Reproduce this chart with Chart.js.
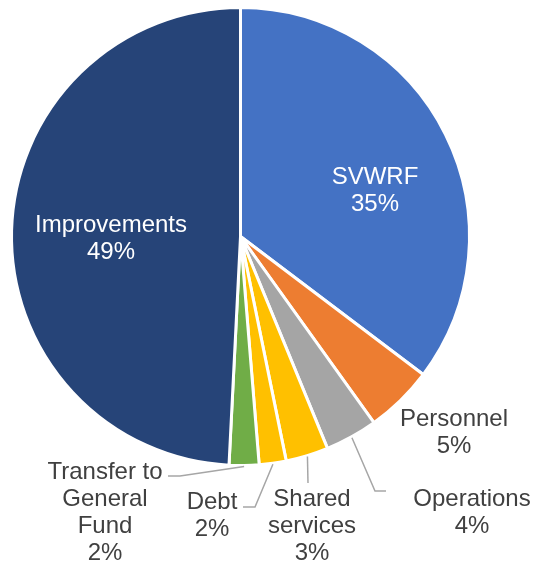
<!DOCTYPE html>
<html>
<head>
<meta charset="utf-8">
<script src="https://cdn.jsdelivr.net/npm/chart.js@4.4.1/dist/chart.umd.min.js"></script>
<style>
  html, body { margin: 0; padding: 0; background: #fff; }
  #wrap { width: 543px; height: 564px; position: relative; }
</style>
</head>
<body>
<div id="wrap"><canvas id="chart"></canvas></div>
<script>
// slice data, clockwise from 12 o'clock
const categories = ['SVWRF', 'Personnel', 'Operations', 'Shared services', 'Debt', 'Transfer to General Fund', 'Improvements'];
const shares = [35.3, 4.8, 3.7, 3.0, 1.9, 2.1, 49.2];
const sliceColors = ['#4472C4', '#ED7D31', '#A5A5A5', '#FFC000', '#FFC000', '#70AD47', '#264478'];

// how each label is broken into lines and where it sits
const labelLines = [
  ['SVWRF'], ['Personnel'], ['Operations'], ['Shared', 'services'], ['Debt'], ['Transfer to', 'General', 'Fund'], ['Improvements']
];
const labelLayout = [
  { x: 375, y: 177, color: '#fff' },
  { x: 454, y: 419 },
  { x: 472, y: 499, elbow: [375, 491], end: [386, 491] },
  { x: 312, y: 499, elbow: [308, 483], end: [308, 483] },
  { x: 212, y: 502, elbow: [255, 507], end: [243, 507] },
  { x: 105, y: 472, elbow: [180, 476], end: [168, 476] },
  { x: 111, y: 225, color: '#fff' }
];

const total = shares.reduce((a, b) => a + b, 0);

const pieLabels = {
  id: 'pieLabels',
  afterDatasetsDraw(chart) {
    const ctx = chart.ctx;
    const meta = chart.getDatasetMeta(0);
    ctx.save();
    ctx.font = '24px "Liberation Sans", Arial, sans-serif';
    ctx.textAlign = 'center';
    ctx.textBaseline = 'middle';
    meta.data.forEach((arc, i) => {
      const p = arc.getProps(['x', 'y', 'startAngle', 'endAngle', 'outerRadius'], true);
      const lay = labelLayout[i];
      if (lay.elbow) {
        const mid = (p.startAngle + p.endAngle) / 2;
        const sx = p.x + Math.cos(mid) * (p.outerRadius + 1);
        const sy = p.y + Math.sin(mid) * (p.outerRadius + 1);
        ctx.strokeStyle = '#A6A6A6';
        ctx.lineWidth = 1.5;
        ctx.beginPath();
        ctx.moveTo(sx, sy);
        ctx.lineTo(lay.elbow[0], lay.elbow[1]);
        ctx.lineTo(lay.end[0], lay.end[1]);
        ctx.stroke();
      }
      const pct = Math.round(shares[i] / total * 100) + '%';
      const lines = labelLines[i].concat([pct]);
      ctx.fillStyle = lay.color || '#404040';
      lines.forEach((t, k) => ctx.fillText(t, lay.x, lay.y + k * 27));
    });
    ctx.restore();
  }
};

new Chart(document.getElementById('chart'), {
  type: 'pie',
  data: {
    labels: categories,
    datasets: [{
      data: shares,
      backgroundColor: sliceColors,
      borderColor: '#fff',
      borderWidth: 3
    }]
  },
  options: {
    responsive: true,
    maintainAspectRatio: false,
    animation: false,
    layout: { padding: { left: 10, top: 6, right: 72, bottom: 97 } },
    plugins: { legend: { display: false }, tooltip: { enabled: false } }
  },
  plugins: [pieLabels]
});
</script>
</body>
</html>
